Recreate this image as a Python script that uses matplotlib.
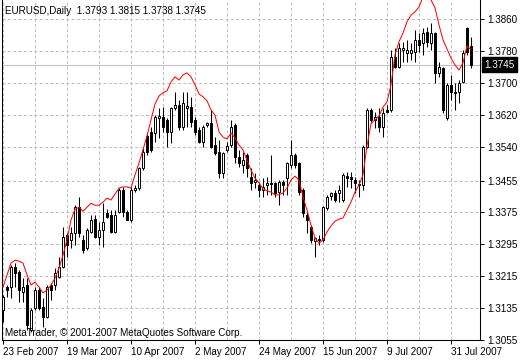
import numpy as np
import pandas as pd
import matplotlib
matplotlib.use('Agg')
import matplotlib.pyplot as plt
import matplotlib.transforms as mtransforms

# EURUSD daily bars, 23 Feb 2007 onwards
opens = [1.3130, 1.3188, 1.3188, 1.3238, 1.3225, 1.3175, 1.3193, 1.3080, 1.3135, 1.3180,
         1.3137, 1.3112, 1.3193, 1.3193, 1.3213, 1.3238, 1.3318, 1.3306, 1.3323, 1.3388,
         1.3306, 1.3286, 1.3326, 1.3358, 1.3313, 1.3331, 1.3373, 1.3368, 1.3326, 1.3376,
         1.3431, 1.3376, 1.3356, 1.3431, 1.3436, 1.3486, 1.3567, 1.3577, 1.3574, 1.3612,
         1.3614, 1.3607, 1.3577, 1.3637, 1.3644, 1.3589, 1.3637, 1.3639, 1.3607, 1.3582,
         1.3552, 1.3594, 1.3599, 1.3544, 1.3527, 1.3474, 1.3532, 1.3544, 1.3594, 1.3514,
         1.3494, 1.3519, 1.3464, 1.3451, 1.3444, 1.3431, 1.3444, 1.3449, 1.3449, 1.3426,
         1.3451, 1.3461, 1.3494, 1.3519, 1.3499, 1.3431, 1.3368, 1.3338, 1.3303, 1.3308,
         1.3306, 1.3386, 1.3416, 1.3424, 1.3424, 1.3406, 1.3466, 1.3464, 1.3456, 1.3446,
         1.3444, 1.3539, 1.3632, 1.3607, 1.3614, 1.3589, 1.3632, 1.3632, 1.3765, 1.3740,
         1.3783, 1.3775, 1.3775, 1.3778, 1.3808, 1.3800, 1.3828, 1.3800, 1.3825, 1.3725,
         1.3737, 1.3612, 1.3695, 1.3677, 1.3677, 1.3702, 1.3838, 1.3793]
highs = [1.3168, 1.3193, 1.3243, 1.3248, 1.3230, 1.3210, 1.3210, 1.3135, 1.3188, 1.3188,
         1.3160, 1.3193, 1.3198, 1.3235, 1.3263, 1.3338, 1.3323, 1.3338, 1.3393, 1.3414,
         1.3318, 1.3336, 1.3368, 1.3368, 1.3351, 1.3398, 1.3383, 1.3381, 1.3381, 1.3436,
         1.3439, 1.3381, 1.3439, 1.3444, 1.3489, 1.3537, 1.3574, 1.3589, 1.3619, 1.3637,
         1.3639, 1.3612, 1.3639, 1.3677, 1.3657, 1.3677, 1.3677, 1.3665, 1.3614, 1.3589,
         1.3594, 1.3602, 1.3632, 1.3564, 1.3557, 1.3527, 1.3552, 1.3607, 1.3599, 1.3532,
         1.3527, 1.3524, 1.3486, 1.3474, 1.3451, 1.3461, 1.3464, 1.3519, 1.3451, 1.3456,
         1.3456, 1.3501, 1.3557, 1.3524, 1.3501, 1.3436, 1.3376, 1.3343, 1.3313, 1.3318,
         1.3391, 1.3419, 1.3426, 1.3431, 1.3444, 1.3474, 1.3476, 1.3476, 1.3464, 1.3456,
         1.3544, 1.3637, 1.3637, 1.3627, 1.3637, 1.3637, 1.3644, 1.3783, 1.3788, 1.3800,
         1.3803, 1.3808, 1.3800, 1.3833, 1.3825, 1.3838, 1.3840, 1.3850, 1.3828, 1.3752,
         1.3740, 1.3700, 1.3720, 1.3700, 1.3707, 1.3783, 1.3840, 1.3815]
lows = [1.3100, 1.3162, 1.3160, 1.3188, 1.3150, 1.3150, 1.3080, 1.3075, 1.3130, 1.3130,
        1.3087, 1.3110, 1.3155, 1.3180, 1.3210, 1.3235, 1.3263, 1.3286, 1.3293, 1.3313,
        1.3273, 1.3281, 1.3323, 1.3311, 1.3293, 1.3288, 1.3361, 1.3323, 1.3323, 1.3373,
        1.3363, 1.3356, 1.3351, 1.3426, 1.3431, 1.3481, 1.3519, 1.3527, 1.3552, 1.3562,
        1.3577, 1.3539, 1.3549, 1.3632, 1.3582, 1.3582, 1.3589, 1.3589, 1.3569, 1.3549,
        1.3539, 1.3589, 1.3537, 1.3519, 1.3461, 1.3461, 1.3527, 1.3539, 1.3499, 1.3489,
        1.3474, 1.3464, 1.3431, 1.3436, 1.3414, 1.3414, 1.3419, 1.3419, 1.3414, 1.3393,
        1.3419, 1.3419, 1.3486, 1.3486, 1.3419, 1.3363, 1.3323, 1.3298, 1.3263, 1.3293,
        1.3301, 1.3381, 1.3406, 1.3401, 1.3401, 1.3401, 1.3439, 1.3436, 1.3424, 1.3414,
        1.3431, 1.3537, 1.3602, 1.3587, 1.3577, 1.3564, 1.3624, 1.3627, 1.3737, 1.3737,
        1.3752, 1.3752, 1.3757, 1.3752, 1.3778, 1.3770, 1.3790, 1.3783, 1.3700, 1.3715,
        1.3624, 1.3607, 1.3657, 1.3632, 1.3649, 1.3700, 1.3770, 1.3738]
closes = [1.3162, 1.3180, 1.3238, 1.3223, 1.3180, 1.3188, 1.3092, 1.3130, 1.3180, 1.3135,
          1.3112, 1.3188, 1.3180, 1.3223, 1.3238, 1.3313, 1.3293, 1.3323, 1.3388, 1.3323,
          1.3281, 1.3331, 1.3356, 1.3313, 1.3331, 1.3351, 1.3363, 1.3326, 1.3368, 1.3431,
          1.3376, 1.3356, 1.3431, 1.3436, 1.3486, 1.3527, 1.3527, 1.3532, 1.3614, 1.3617,
          1.3589, 1.3577, 1.3637, 1.3644, 1.3589, 1.3649, 1.3642, 1.3602, 1.3577, 1.3552,
          1.3589, 1.3599, 1.3539, 1.3524, 1.3474, 1.3524, 1.3542, 1.3589, 1.3514, 1.3499,
          1.3506, 1.3486, 1.3449, 1.3456, 1.3431, 1.3439, 1.3449, 1.3446, 1.3424, 1.3451,
          1.3444, 1.3499, 1.3519, 1.3494, 1.3426, 1.3373, 1.3356, 1.3306, 1.3311, 1.3306,
          1.3388, 1.3414, 1.3424, 1.3406, 1.3431, 1.3469, 1.3461, 1.3459, 1.3449, 1.3444,
          1.3539, 1.3632, 1.3607, 1.3614, 1.3589, 1.3624, 1.3627, 1.3765, 1.3740, 1.3788,
          1.3788, 1.3783, 1.3783, 1.3808, 1.3795, 1.3825, 1.3803, 1.3825, 1.3725, 1.3740,
          1.3632, 1.3695, 1.3677, 1.3675, 1.3700, 1.3775, 1.3778, 1.3745]
# red indicator line
ma = [1.3188, 1.3218, 1.3248, 1.3255, 1.3253, 1.3248, 1.3218, 1.3193, 1.3200, 1.3188,
      1.3173, 1.3180, 1.3193, 1.3210, 1.3235, 1.3268, 1.3306, 1.3356, 1.3383, 1.3388,
      1.3378, 1.3388, 1.3398, 1.3393, 1.3393, 1.3401, 1.3411, 1.3406, 1.3421, 1.3436,
      1.3439, 1.3439, 1.3436, 1.3469, 1.3499, 1.3532, 1.3567, 1.3607, 1.3647, 1.3667,
      1.3675, 1.3680, 1.3702, 1.3715, 1.3707, 1.3720, 1.3725, 1.3715, 1.3695, 1.3672,
      1.3665, 1.3655, 1.3632, 1.3619, 1.3577, 1.3564, 1.3559, 1.3574, 1.3562, 1.3544,
      1.3532, 1.3506, 1.3481, 1.3461, 1.3449, 1.3434, 1.3429, 1.3426, 1.3419, 1.3419,
      1.3424, 1.3436, 1.3456, 1.3466, 1.3456, 1.3414, 1.3381, 1.3343, 1.3311, 1.3298,
      1.3306, 1.3326, 1.3341, 1.3353, 1.3358, 1.3361, 1.3381, 1.3401, 1.3426, 1.3444,
      1.3469, 1.3542, 1.3597, 1.3607, 1.3617, 1.3639, 1.3652, 1.3695, 1.3770, 1.3803,
      1.3825, 1.3853, 1.3870, 1.3878, 1.3890, 1.3916, 1.3921, 1.3908, 1.3888, 1.3845,
      1.3808, 1.3785, 1.3762, 1.3745, 1.3732, 1.3750, 1.3793, 1.3783]

yticks = [1.3055, 1.3135, 1.3215, 1.3295, 1.3375, 1.3455, 1.3540, 1.3620, 1.3700, 1.3780, 1.3860]

o = np.array(opens); h = np.array(highs); l = np.array(lows); c = np.array(closes)
x = np.arange(len(o))
dates = pd.bdate_range('2007-02-23', periods=len(o))

plt.rcParams['font.family'] = ['Liberation Sans', 'DejaVu Sans']
fs = 7.1

fig = plt.figure(figsize=(5.2, 3.6), dpi=100)
ax = fig.add_axes([2/520, 20/360, 478/520, 340/360])
ax.set_xlim(-0.25, 119.25)
ax.set_ylim(1.3055, 1.39077)

gridkw = dict(color='#c0c0c0', linewidth=0.75, linestyle=(0, (2.9, 2.2)))
ax.set_xticks(x[::8], minor=True)
ax.set_xticks(x[::16])
ax.set_xticklabels([d.strftime('%d %b %Y').lstrip('0') for d in dates[::16]], ha='left')
ax.set_yticks(yticks)
ax.set_yticklabels(['%.4f' % v for v in yticks])
ax.grid(True, which='both', **gridkw)
ax.set_axisbelow(True)
ax.yaxis.tick_right()
ax.tick_params(axis='y', length=3, width=0.7, pad=2, labelsize=fs, colors='black')
ax.tick_params(axis='x', which='major', length=3, width=0.7, pad=2, labelsize=fs)
ax.tick_params(axis='x', which='minor', length=0)
for s in ['left', 'right', 'bottom']:
    ax.spines[s].set_linewidth(0.75)
ax.spines['top'].set_visible(False)

ax.axhline(c[-1], color='#c0c0c0', linewidth=0.75, zorder=1)

up = c >= o
ax.vlines(x, l, h, color='black', linewidth=0.75, zorder=2)
ax.bar(x, np.abs(c - o), bottom=np.minimum(o, c), width=0.5,
       color=np.where(up, 'white', 'black'), edgecolor='black', linewidth=0.7, zorder=3)
ax.plot(x, ma, color='red', linewidth=0.72, zorder=4)

trans = mtransforms.blended_transform_factory(ax.transAxes, ax.transData)
ax.text(1.0 + 4/478, c[-1], '%.4f' % c[-1], transform=trans, color='white', fontsize=fs,
        va='center', ha='left', clip_on=False,
        bbox=dict(facecolor='black', edgecolor='black', boxstyle='square,pad=0.25'))

fig.text(5/520, 1 - 11/360, 'EURUSD,Daily  %.4f %.4f %.4f %.4f' % (o[-1], h[-1], l[-1], c[-1]),
         fontsize=fs, va='center', ha='left')
fig.text(5/520, 1 - 333/360, 'MetaTrader, \u00a9 2001-2007 MetaQuotes Software Corp.',
         fontsize=fs, va='center', ha='left')

fig.savefig('out.png', dpi=100)
